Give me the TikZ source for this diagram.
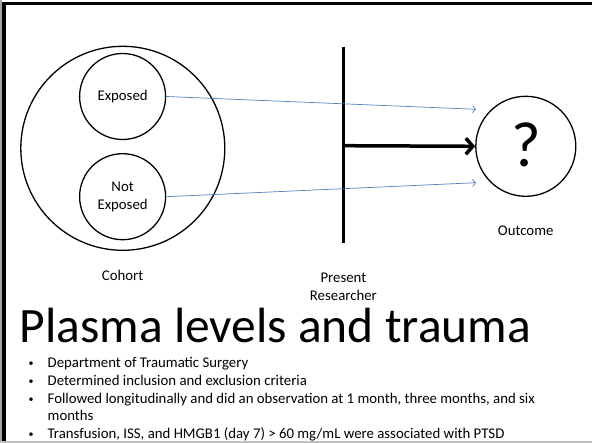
\documentclass[tikz,border=0pt]{standalone}
\usepackage{fontspec}
\setmainfont{Carlito}
\usetikzlibrary{arrows.meta}
\definecolor{linkblue}{HTML}{4F81BD}
\begin{document}
\begin{tikzpicture}[x=1pt,y=-1pt,
  ring/.style={circle,draw=black,line width=1.3pt,inner sep=0pt},
  lbl/.style={font=\fontsize{14.8}{18}\selectfont,align=center,inner sep=0pt},
  link/.style={draw=linkblue,line width=0.7pt,-{Straight Barb[length=3pt,width=7pt]}},
  bul/.style={font=\fontsize{14.8}{18}\selectfont,anchor=base west,inner sep=0pt},
  dot/.style={font=\fontsize{10}{12}\selectfont,anchor=base west,inner sep=0pt}]
\useasboundingbox (0,0) rectangle (592,443);
\fill[white] (0,0) rectangle (592,443);
% slide frame
\fill[gray!70] (0,0) rectangle (2,443);
\fill[black] (2,2) rectangle (6,443);
\fill[black] (2,2) rectangle (592,5);
\fill[gray!50] (0,441) rectangle (592,443);
% cohort and its two groups
\node[ring,minimum size=204pt] (cohort) at (122.8,148.3) {};
\node[ring,minimum size=86pt] (exp) at (122.6,96.5) {};
\node[ring,minimum size=86pt] (nexp) at (122.6,196.7) {};
\node[lbl] at (exp) {Exposed};
\node[lbl] at (nexp) {Not\\Exposed};
% outcome
\node[ring,minimum size=100pt] (out) at (525.8,146.3) {};
\node[font=\fontsize{64}{66}\selectfont,inner sep=0pt] (q) at (526.5,145) {?};
% present researcher line
\coordinate (vtop) at (343.4,46.7);
\coordinate (vbot) at (343.4,243.3);
\coordinate (vmid) at (343.4,145.7);
\draw[line width=3.5pt] (vtop) -- (vbot);
\draw[line width=3.5pt,-{Straight Barb[length=7pt,width=16pt]}] (vmid) -- (out.west);
% blue links
\coordinate (e1) at (476,109.3);
\coordinate (e2) at (476,182.7);
\draw[link] (exp.east) -- (e1);
\draw[link] (nexp.east) -- (e2);
% labels
\node[lbl] (lc) at (122.6,275.3) {Cohort};
\node[lbl] (lr) at (343.4,287.3) {Present\\Researcher};
\node[lbl] (lo) at (525.7,230.7) {Outcome};
% title
\node[font=\fontsize{49.5}{52}\selectfont,anchor=base west,inner sep=0pt] (title) at (19.5,342.5) {Plasma levels and trauma};
% bullets
\foreach \yy in {366.3,384.3,402.3,437.3}
  \node[dot] at (28.5,\yy) {•};
\node[bul] (b1) at (47.5,367.3) {Department of Traumatic Surgery};
\node[bul] (b2) at (47.5,385.3) {Determined inclusion and exclusion criteria};
\node[bul] (b3) at (47.5,403.3) {Followed longitudinally and did an observation at 1 month, three months, and six};
\node[bul] (b3b) at (47.5,420.8) {months};
\node[bul] (b4) at (47.5,438.3) {Transfusion, ISS, and HMGB1 (day 7) > 60 mg/mL were associated with PTSD};
\end{tikzpicture}
\end{document}
